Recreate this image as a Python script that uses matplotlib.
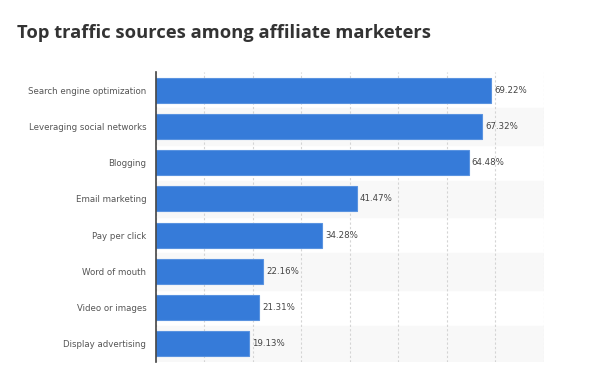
import matplotlib.pyplot as plt

categories = ['Search engine optimization', 'Leveraging social networks', 'Blogging',
              'Email marketing', 'Pay per click', 'Word of mouth',
              'Video or images', 'Display advertising']
values = [69.22, 67.32, 64.48, 41.47, 34.28, 22.16, 21.31, 19.13]

fig = plt.figure(figsize=(5.91, 3.88), dpi=100)
ax = fig.add_axes([0.264, 0.067, 0.656, 0.747])

y = list(range(len(categories)))

# alternating row bands
for i in y:
    if i % 2 == 1:
        ax.axhspan(i - 0.5, i + 0.5, color='#f8f8f8', zorder=0)

ax.barh(y, values, height=0.69, color='#367bd9', edgecolor='#5a93e0',
        linewidth=0.8, zorder=3)

for i, v in zip(y, values):
    ax.text(v + 0.6, i, f'{v:.2f}%', va='center', ha='left',
            fontsize=6.2, color='#444444', family='DejaVu Sans', zorder=4)

ax.set_xlim(0, 80)
ax.set_ylim(len(categories) - 0.5, -0.5)
ax.set_yticks(y)
ax.set_yticklabels(categories, fontsize=6.2, color='#555555', family='DejaVu Sans')
ax.set_xticks(range(0, 90, 10))
ax.set_xticklabels([])
ax.tick_params(axis='both', length=0)
ax.tick_params(axis='y', pad=7)
ax.grid(axis='x', color='#d4d4d4', linestyle=(0, (2, 2)), linewidth=0.8, zorder=1)
ax.set_axisbelow(True)

for s in ['top', 'right', 'bottom']:
    ax.spines[s].set_visible(False)
ax.spines['left'].set_color('#444444')
ax.spines['left'].set_linewidth(1.2)
ax.spines['left'].set_zorder(5)

fig.text(0.029, 0.916, 'Top traffic sources among affiliate marketers',
         fontsize=13.2, fontweight='bold', color='#333333', family='Open Sans',
         va='center', ha='left')

fig.savefig('out.png', dpi=100)
